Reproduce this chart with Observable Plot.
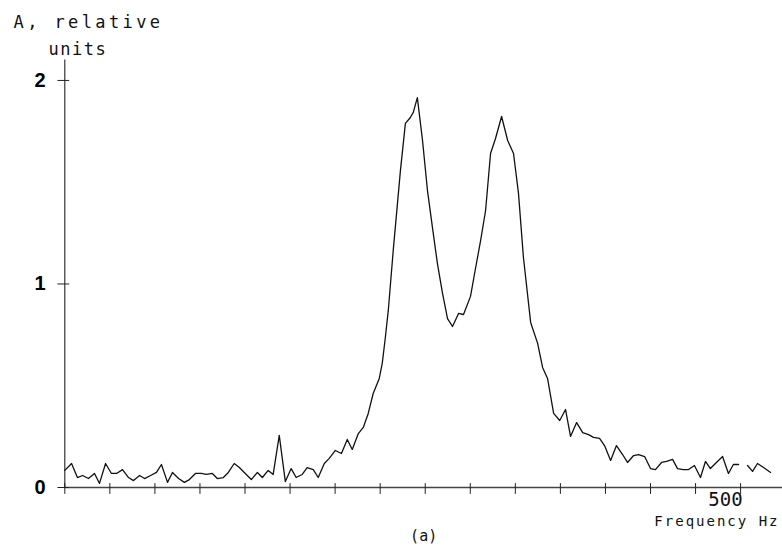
<!DOCTYPE html>
<html>
<head>
<meta charset="utf-8">
<script src="https://cdn.jsdelivr.net/npm/d3@7"></script>
<script src="https://cdn.jsdelivr.net/npm/@observablehq/plot@0.6"></script>
<style>
  html, body { margin: 0; padding: 0; background: #fff; }
</style>
</head>
<body>
<script>
// Frequency (Hz) of each sample
const freqHz = [
  200.0, 203.0, 205.6, 207.9, 210.5, 213.2, 215.4, 218.1, 220.7, 223.0,
  225.6, 228.3, 230.5, 233.2, 235.4, 238.1, 240.7, 242.9, 245.6, 247.8,
  250.5, 253.1, 255.3, 258.0, 260.6, 262.8, 265.5, 267.7, 270.4, 272.6,
  275.2, 277.5, 280.1, 282.8, 285.5, 287.7, 290.3, 292.5, 295.2, 297.9,
  300.5, 302.7, 305.4, 307.6, 310.3, 312.5, 315.2, 317.4, 320.1, 322.8,
  325.4, 327.6, 330.3, 332.5, 334.7, 336.9, 339.6, 340.9, 342.3, 343.6,
  345.8, 349.0, 351.2, 353.4, 354.7, 356.5, 358.8, 361.0, 363.2, 365.4,
  367.7, 369.9, 372.1, 374.8, 377.0, 380.1, 382.4, 384.6, 386.8, 389.0,
  391.2, 393.9, 396.6, 399.2, 401.4, 403.6, 406.8, 409.9, 412.1, 414.3,
  417.0, 419.7, 422.3, 424.5, 427.2, 429.9, 432.5, 434.7, 437.4, 439.6,
  442.3, 444.9, 447.6, 449.8, 452.5, 454.7, 457.4, 460.0, 462.2, 464.9,
  467.1, 469.8, 472.0, 474.6, 476.9, 479.5, 482.2, 484.4, 486.6, 488.8,
  492.0, 494.6, 496.8, 499.1, 500.9, 503.1, 505.3, 507.5, 510.2, 513.3
];
// Amplitude A (relative units); NaN = gap in the trace
const amplitude = [
  0.084, 0.118, 0.049, 0.059, 0.044, 0.069, 0.020, 0.118, 0.069, 0.069,
  0.088, 0.049, 0.034, 0.059, 0.044, 0.059, 0.074, 0.113, 0.025, 0.074,
  0.044, 0.025, 0.039, 0.069, 0.069, 0.064, 0.069, 0.044, 0.049, 0.074,
  0.118, 0.098, 0.069, 0.039, 0.074, 0.049, 0.084, 0.064, 0.256, 0.029,
  0.093, 0.049, 0.064, 0.098, 0.088, 0.049, 0.118, 0.143, 0.182, 0.167,
  0.236, 0.187, 0.265, 0.295, 0.364, 0.462, 0.536, 0.609, 0.737, 0.870,
  1.165, 1.558, 1.789, 1.818, 1.843, 1.916, 1.705, 1.459, 1.278, 1.101,
  0.953, 0.830, 0.791, 0.855, 0.850, 0.939, 1.081, 1.214, 1.361, 1.641,
  1.715, 1.823, 1.705, 1.641, 1.445, 1.130, 0.811, 0.708, 0.590, 0.536,
  0.364, 0.329, 0.383, 0.251, 0.319, 0.270, 0.260, 0.246, 0.241, 0.206,
  0.133, 0.206, 0.162, 0.123, 0.157, 0.162, 0.152, 0.093, 0.088, 0.123,
  0.128, 0.138, 0.093, 0.088, 0.088, 0.108, 0.049, 0.128, 0.093, 0.118,
  0.152, 0.069, 0.113, 0.113, NaN,   0.108, 0.079, 0.118, 0.098, 0.074
];
const xTickValues = [200, 220, 240, 260, 280, 300, 320, 340, 360, 380, 400, 420, 440, 460, 480, 500];
const xLabelValues = [500];
const yTickValues = [0, 1, 2];
const xDomain = [200, 518.6];
const yDomain = [0, 2.1];

const data = freqHz.map((f, i) => ({f, a: amplitude[i]}));

// a plain line-segment shape for tick vectors
const tickShape = {draw(context, l) { context.moveTo(0, 0); context.lineTo(0, -l); }};

const mono = "DejaVu Sans Mono";
const chart = Plot.plot({
  width: 782,
  height: 550,
  marginLeft: 64.3,
  marginRight: 0,
  marginTop: 59.6,
  marginBottom: 63,
  x: {domain: xDomain, axis: null},
  y: {domain: yDomain, axis: null},
  style: {background: "#fff", color: "#111", fontFamily: mono},
  marks: [
    Plot.ruleY([0], {stroke: "#444", strokeWidth: 1.6}),
    Plot.ruleX([xDomain[0]], {stroke: "#222", strokeWidth: 1.1}),
    // x ticks crossing the axis
    Plot.vector(xTickValues, {x: d => d, y: () => 0, length: 10, anchor: "middle", dy: 1,
      shape: tickShape, stroke: "#222", strokeWidth: 1}),
    // y ticks crossing the axis
    Plot.vector(yTickValues, {x: () => xDomain[0], y: d => d, length: 11, rotate: 90, anchor: "middle", dx: -1.5,
      shape: tickShape, stroke: "#222", strokeWidth: 1}),
    // y tick labels
    Plot.text(yTickValues, {y: d => d, frameAnchor: "left", textAnchor: "end", lineAnchor: "middle",
      dx: -19.3, text: d => String(d), fontSize: 20, fontWeight: "bold", fontFamily: "Liberation Sans", fill: "#000"}),
    Plot.text(xLabelValues, {x: d => d, frameAnchor: "bottom", textAnchor: "end", lineAnchor: "bottom",
      dx: 2, dy: 18, fontSize: 19, fontFamily: mono, fill: "#111", text: d => String(d)}),
    Plot.text(["Frequency Hz"], {frameAnchor: "bottom-right", textAnchor: "end", lineAnchor: "bottom",
      dx: -3, dy: 38, fontSize: 14, fontFamily: mono, fill: "#111"}),
    Plot.text(["(a)"], {frameAnchor: "bottom", textAnchor: "middle", lineAnchor: "bottom",
      dx: 0, dy: 53, fontSize: 15, fontFamily: mono, fill: "#111"}),
    Plot.text(["A, relative"], {frameAnchor: "top-left", textAnchor: "start", lineAnchor: "bottom",
      dx: -51.3, dy: -32.6, fontSize: 17, fontFamily: mono, fill: "#111"}),
    Plot.text(["units"], {frameAnchor: "top-left", textAnchor: "start", lineAnchor: "bottom",
      dx: -16.3, dy: -5.6, fontSize: 17, fontFamily: mono, fill: "#111"}),
    Plot.line(data, {x: "f", y: "a", stroke: "#111", strokeWidth: 1.3, strokeLinejoin: "round"})
  ]
});
// typewriter-like wide letter spacing, as in the reference
const spacing = {"Frequency Hz": "2px", "A, relative": "3.4px", "units": "1.5px"};
chart.querySelectorAll("text").forEach(t => {
  const s = spacing[t.textContent];
  if (s) t.setAttribute("letter-spacing", s);
});
document.body.appendChild(chart);
</script>
</body>
</html>
